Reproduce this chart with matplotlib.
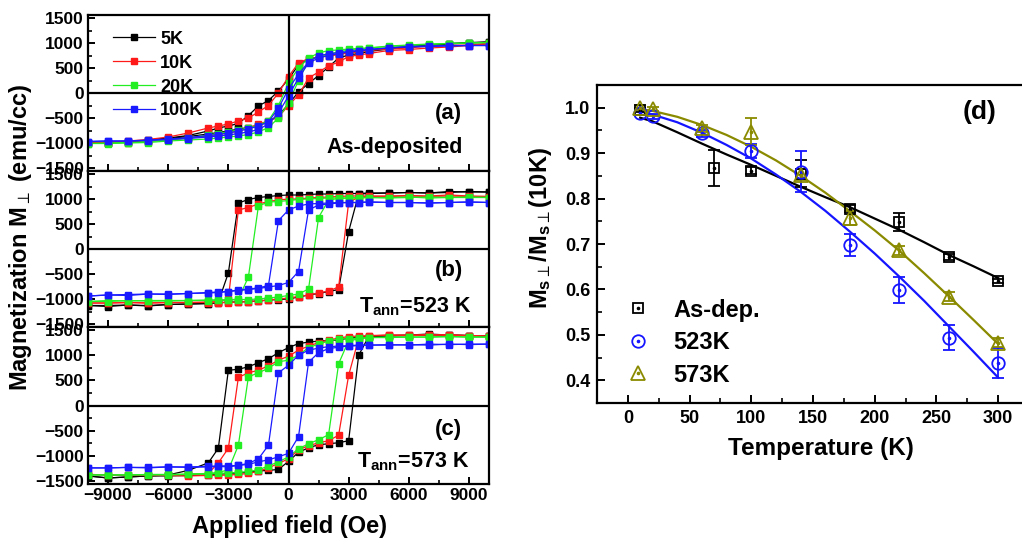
import matplotlib
matplotlib.use("Agg")
import matplotlib.pyplot as plt
import numpy as np
from matplotlib.lines import Line2D
from matplotlib.legend_handler import HandlerTuple
from matplotlib.ticker import MultipleLocator

plt.rcParams['font.family'] = ['Liberation Sans', 'DejaVu Sans']
plt.rcParams['mathtext.fontset'] = 'dejavusans'
plt.rcParams['mathtext.default'] = 'regular'
plt.rcParams['axes.linewidth'] = 1.6

# ---------------- Data: hysteresis loops ----------------
H_down = [10000, 9000, 8000, 7000, 6000, 5000, 4000, 3500, 3000, 2500, 2000, 1500, 1000, 500, 0,
          -500, -1000, -1500, -2000, -2500, -3000, -3500, -4000, -5000, -6000, -7000, -8000, -9000, -10000]
H_up = H_down[::-1]

temps = ['5K', '10K', '20K', '100K']
loop_colors = ['#000000', '#ff1a1a', '#22ee22', '#1a1aff']

# Panel (a): as-deposited
a5_down = [1020, 1010, 990, 960, 930, 900, 860, 840, 810, 780, 750, 720, 680, 560, 280, 40, -150, -260, -450, -610, -660, -700, -760, -850, -900, -940, -980, -990, -1000]
a5_up = [-1000, -990, -980, -950, -910, -870, -820, -790, -760, -720, -690, -650, -570, -450, -220, 20, 190, 350, 520, 700, 760, 790, 830, 880, 920, 950, 980, 1000, 1020]
a10_down = [1000, 960, 950, 940, 900, 880, 850, 820, 800, 770, 740, 720, 690, 600, 330, 0, -250, -380, -500, -560, -620, -660, -700, -800, -880, -930, -960, -990, -1000]
a10_up = [-1000, -990, -990, -970, -930, -900, -860, -830, -800, -760, -700, -620, -560, -480, -250, -40, 300, 420, 540, 620, 730, 760, 790, 850, 870, 900, 920, 950, 980]
a20_down = [1010, 1000, 990, 970, 950, 930, 900, 890, 880, 860, 850, 800, 700, 500, 200, -250, -550, -650, -700, -740, -780, -810, -840, -900, -940, -970, -990, -1000, -1010]
a20_up = [-1010, -1010, -1000, -990, -960, -940, -920, -900, -880, -860, -830, -780, -690, -500, -200, 250, 650, 730, 780, 820, 860, 880, 900, 940, 960, 980, 990, 1000, 1010]
a100_down = [950, 950, 950, 940, 930, 900, 870, 850, 830, 810, 780, 750, 620, 380, 80, -300, -580, -660, -720, -760, -800, -830, -850, -890, -920, -940, -960, -960, -970]
a100_up = [-970, -960, -960, -950, -930, -910, -880, -860, -840, -810, -780, -730, -620, -400, -60, 300, 600, 700, 750, 790, 820, 850, 870, 900, 920, 930, 940, 950, 950]

# Panel (b): Tann = 523 K
b5_down = [1140, 1150, 1130, 1120, 1130, 1120, 1120, 1110, 1110, 1110, 1100, 1100, 1090, 1080, 1080, 1070, 1050, 1030, 990, 920, -480, -1060, -1090, -1100, -1110, -1130, -1120, -1130, -1130]
b5_up = [-1130, -1150, -1120, -1140, -1110, -1100, -1090, -1080, -1060, -1060, -1050, -1040, -1020, -1010, -1000, -960, -920, -890, -850, -810, 350, 1100, 1110, 1120, 1130, 1120, 1150, 1140, 1140]
b10_down = [1050, 1060, 1080, 1060, 1070, 1060, 1060, 1060, 1060, 1050, 1040, 1030, 1020, 1000, 1000, 980, 950, 900, 830, 780, -1000, -1050, -1060, -1070, -1070, -1080, -1070, -1080, -1080]
b10_up = [-1080, -1080, -1070, -1080, -1070, -1070, -1070, -1070, -1070, -1060, -1050, -1040, -1020, -1000, -980, -950, -920, -880, -840, -760, 930, 1040, 1050, 1050, 1060, 1050, 1060, 1050, 1050]
b20_down = [1030, 1040, 1030, 1020, 1040, 1030, 1030, 1030, 1020, 1020, 1020, 1010, 1000, 990, 970, 950, 940, 860, -560, -1000, -1020, -1020, -1030, -1030, -1040, -1040, -1030, -1050, -1050]
b20_up = [-1050, -1030, -1040, -1030, -1030, -1030, -1020, -1020, -1020, -1010, -1010, -1000, -980, -960, -930, -900, -800, 630, 980, 1010, 1020, 1020, 1030, 1020, 1030, 1040, 1030, 1030, 1030]
b100_down = [930, 940, 930, 920, 930, 930, 940, 930, 930, 930, 920, 910, 900, 860, 780, 570, -730, -780, -800, -820, -850, -860, -870, -890, -900, -900, -910, -920, -940]
b100_up = [-940, -920, -930, -900, -910, -890, -880, -870, -850, -830, -810, -790, -760, -730, -670, -450, 780, 880, 900, 920, 930, 930, 940, 930, 930, 920, 930, 940, 930]

# Panel (c): Tann = 573 K
c5_down = [1380, 1390, 1400, 1400, 1390, 1380, 1370, 1360, 1340, 1300, 1290, 1280, 1260, 1230, 1150, 1050, 930, 850, 770, 720, 700, -850, -1140, -1290, -1380, -1400, -1420, -1440, -1400]
c5_up = [-1400, -1440, -1420, -1400, -1400, -1390, -1380, -1370, -1350, -1340, -1330, -1300, -1290, -1270, -1110, -930, -840, -780, -760, -740, -700, 1000, 1370, 1390, 1400, 1420, 1400, 1390, 1380]
c10_down = [1380, 1390, 1410, 1400, 1390, 1400, 1390, 1380, 1370, 1340, 1300, 1250, 1180, 1100, 980, 900, 790, 700, 650, 560, -850, -1140, -1350, -1370, -1380, -1380, -1390, -1380, -1370]
c10_up = [-1370, -1380, -1390, -1390, -1390, -1400, -1390, -1390, -1380, -1370, -1350, -1310, -1240, -1150, -1060, -880, -800, -740, -700, -590, 600, 1330, 1380, 1400, 1400, 1410, 1390, 1390, 1380]
c20_down = [1360, 1360, 1370, 1360, 1360, 1350, 1350, 1340, 1330, 1320, 1280, 1220, 1150, 1000, 900, 870, 740, 650, 570, -790, -1280, -1330, -1350, -1360, -1370, -1370, -1380, -1380, -1380]
c20_up = [-1380, -1380, -1380, -1380, -1380, -1370, -1360, -1350, -1340, -1330, -1310, -1280, -1200, -1120, -1020, -860, -760, -680, -580, 830, 1290, 1320, 1350, 1360, 1360, 1360, 1370, 1360, 1360]
c100_down = [1220, 1210, 1220, 1200, 1210, 1200, 1200, 1200, 1190, 1180, 1170, 1140, 1100, 1000, 800, 650, -790, -1060, -1150, -1190, -1220, -1210, -1220, -1230, -1220, -1240, -1230, -1240, -1240]
c100_up = [-1240, -1240, -1230, -1230, -1220, -1220, -1210, -1200, -1200, -1190, -1170, -1120, -1080, -1020, -950, -620, 860, 1050, 1130, 1160, 1180, 1190, 1200, 1210, 1200, 1220, 1210, 1220, 1220]

panels = [
    [(a5_down, a5_up), (a10_down, a10_up), (a20_down, a20_up), (a100_down, a100_up)],
    [(b5_down, b5_up), (b10_down, b10_up), (b20_down, b20_up), (b100_down, b100_up)],
    [(c5_down, c5_up), (c10_down, c10_up), (c20_down, c20_up), (c100_down, c100_up)],
]

# ---------------- Data: panel (d) ----------------
T_asdep = [10, 70, 100, 140, 180, 220, 260, 300]
M_asdep = [0.995, 0.868, 0.861, 0.855, 0.778, 0.748, 0.671, 0.619]
E_asdep = [0.005, 0.040, 0.008, 0.030, 0.008, 0.020, 0.006, 0.005]
T_523 = [10, 20, 60, 100, 140, 180, 220, 260, 300]
M_523 = [0.989, 0.981, 0.944, 0.905, 0.859, 0.698, 0.599, 0.494, 0.437]
E_523 = [0.005, 0.005, 0.008, 0.015, 0.045, 0.025, 0.028, 0.027, 0.033]
T_573 = [10, 20, 60, 100, 140, 180, 220, 260, 300]
M_573 = [1.000, 0.997, 0.955, 0.947, 0.852, 0.757, 0.686, 0.584, 0.483]
E_573 = [0.005, 0.005, 0.008, 0.030, 0.012, 0.015, 0.010, 0.010, 0.010]

T_fit = [10, 20, 40, 60, 80, 100, 120, 140, 160, 180, 200, 220, 240, 260, 280, 300]
fit_asdep = [0.978, 0.970, 0.946, 0.921, 0.897, 0.874, 0.850, 0.826, 0.803, 0.781, 0.756, 0.731, 0.704, 0.676, 0.651, 0.625]
fit_523 = [0.992, 0.985, 0.968, 0.945, 0.918, 0.888, 0.853, 0.815, 0.773, 0.727, 0.679, 0.628, 0.575, 0.519, 0.463, 0.406]
fit_573 = [0.997, 0.993, 0.980, 0.962, 0.940, 0.914, 0.884, 0.850, 0.813, 0.772, 0.730, 0.685, 0.636, 0.585, 0.533, 0.480]

# ---------------- Figure ----------------
W, Hpx = 1022, 539
fig = plt.figure(figsize=(W / 100, Hpx / 100), dpi=100)

def px_axes(x0, y0, x1, y1):
    return fig.add_axes([x0 / W, 1 - y1 / Hpx, (x1 - x0) / W, (y1 - y0) / Hpx])

left_boxes = [(88, 15, 489, 171), (88, 171, 489, 327), (88, 327, 489, 484)]
axs = [px_axes(*b) for b in left_boxes]

for i, ax in enumerate(axs):
    for (down, up), col in zip(panels[i], loop_colors):
        ax.plot(H_down, down, '-', color=col, lw=0.9, marker='s', ms=4.2, mec=col, mfc=col)
        ax.plot(H_up, up, '-', color=col, lw=0.9, marker='s', ms=4.2, mec=col, mfc=col)
    ax.axhline(0, color='black', lw=1.6, zorder=5)
    ax.axvline(0, color='black', lw=1.6, zorder=5)
    ax.set_xlim(-10000, 10000)
    ax.set_ylim(-1560, 1560)
    ax.set_yticks([-1500, -1000, -500, 0, 500, 1000, 1500])
    ax.yaxis.set_minor_locator(MultipleLocator(250))
    ax.set_xticks([-9000, -6000, -3000, 0, 3000, 6000, 9000])
    ax.xaxis.set_minor_locator(MultipleLocator(1500))
    ax.tick_params(axis='both', which='major', direction='in', length=5, width=1.4,
                   labelsize=12.5, pad=3)
    ax.tick_params(axis='both', which='minor', direction='in', length=3, width=1.2)
    ax.tick_params(axis='x', top=False)
    ax.tick_params(axis='y', right=False)
    if i < 2:
        ax.tick_params(axis='x', labelbottom=False)
    for lab in ax.get_xticklabels() + ax.get_yticklabels():
        lab.set_fontweight('bold')

# legend panel (a)
handles = [Line2D([], [], color=c, lw=0.9, marker='s', ms=4.5, mfc=c, mec=c) for c in loop_colors]
leg = axs[0].legend(handles, temps, loc='upper left', bbox_to_anchor=(0.045, 0.945), frameon=False,
                    prop={'size': 13, 'weight': 'bold'}, handlelength=2.3, handletextpad=0.3,
                    labelspacing=0.38, borderaxespad=0)

axs[0].text(0.90, 0.37, '(a)', transform=axs[0].transAxes, fontsize=16, fontweight='bold',
            ha='center', va='center')
axs[0].text(0.935, 0.15, 'As-deposited', transform=axs[0].transAxes, fontsize=15.5,
            fontweight='bold', ha='right', va='center')
axs[1].text(0.90, 0.36, '(b)', transform=axs[1].transAxes, fontsize=16, fontweight='bold',
            ha='center', va='center')
axs[1].text(0.815, 0.13, r'T$_{\mathregular{ann}}$=523 K', transform=axs[1].transAxes,
            fontsize=15.5, fontweight='bold', ha='center', va='center')
axs[2].text(0.90, 0.35, '(c)', transform=axs[2].transAxes, fontsize=16, fontweight='bold',
            ha='center', va='center')
axs[2].text(0.81, 0.14, r'T$_{\mathregular{ann}}$=573 K', transform=axs[2].transAxes,
            fontsize=15.5, fontweight='bold', ha='center', va='center')

fig.text(289 / W, 1 - 527 / Hpx, 'Applied field (Oe)', fontsize=17, fontweight='bold',
         ha='center', va='center')
fig.text(21 / W, 1 - 237 / Hpx, r'Magnetization M$_{\mathrm{\perp}}$ (emu/cc)', fontsize=17,
         fontweight='bold', ha='center', va='center', rotation=90)

# ---------------- Panel (d) ----------------
axd = px_axes(597, 85, 1029, 403)
axd.set_xlim(-25, 325)
axd.set_ylim(0.35, 1.05)

c_k, c_b, c_o = '#000000', '#1515ff', '#8a8a00'
axd.plot(T_fit, fit_asdep, '-', color=c_k, lw=1.6, zorder=2)
axd.plot(T_fit, fit_523, '-', color=c_b, lw=1.6, zorder=2)
axd.plot(T_fit, fit_573, '-', color=c_o, lw=1.6, zorder=2)

series = [(T_asdep, M_asdep, E_asdep, c_k, 's', 7.5),
          (T_523, M_523, E_523, c_b, 'o', 9),
          (T_573, M_573, E_573, c_o, '^', 10)]
for T, M, E, col, mk, ms in series:
    axd.errorbar(T, M, yerr=E, fmt='none', ecolor=col, elinewidth=1.3, capsize=4, capthick=1.3,
                 zorder=3)
    axd.plot(T, M, linestyle='none', marker=mk, ms=ms, mfc='none', mec=col, mew=1.3, zorder=4)
    axd.plot(T, M, linestyle='none', marker='o', ms=1.6, mfc=col, mec=col, zorder=4)

hd = []
for _, _, _, col, mk, ms in series:
    hd.append((Line2D([], [], linestyle='none', marker=mk, ms=ms, mfc='none', mec=col, mew=1.3),
               Line2D([], [], linestyle='none', marker='o', ms=1.6, mfc=col, mec=col)))
axd.legend(hd, ['As-dep.', '523K', '573K'], handler_map={tuple: HandlerTuple(ndivide=1)},
           loc='lower left', bbox_to_anchor=(0.045, 0.022), frameon=False,
           prop={'size': 17, 'weight': 'bold'}, handlelength=1.0, handletextpad=1.0,
           labelspacing=0.40, borderaxespad=0)

axd.set_xticks([0, 50, 100, 150, 200, 250, 300])
axd.xaxis.set_minor_locator(MultipleLocator(25))
axd.set_yticks([0.4, 0.5, 0.6, 0.7, 0.8, 0.9, 1.0])
axd.yaxis.set_minor_locator(MultipleLocator(0.05))
axd.set_yticklabels(['0.4', '0.5', '0.6', '0.7', '0.8', '0.9', '1.0'])
axd.tick_params(axis='both', which='major', direction='in', length=6, width=1.4,
                labelsize=13, pad=5)
axd.tick_params(axis='both', which='minor', direction='in', length=3.5, width=1.2)
for lab in axd.get_xticklabels() + axd.get_yticklabels():
    lab.set_fontweight('bold')
axd.text(0.885, 0.915, '(d)', transform=axd.transAxes, fontsize=19, fontweight='bold',
         ha='center', va='center')

fig.text(821 / W, 1 - 449 / Hpx, 'Temperature (K)', fontsize=17.5, fontweight='bold',
         ha='center', va='center')
fig.text(540 / W, 1 - 228 / Hpx,
         r'M$_{\mathregular{s}\mathrm{\perp}}$/M$_{\mathregular{s}\mathrm{\perp}}$(10K)',
         fontsize=17, fontweight='bold', ha='center', va='center', rotation=90)

fig.savefig('out.png', dpi=100)
